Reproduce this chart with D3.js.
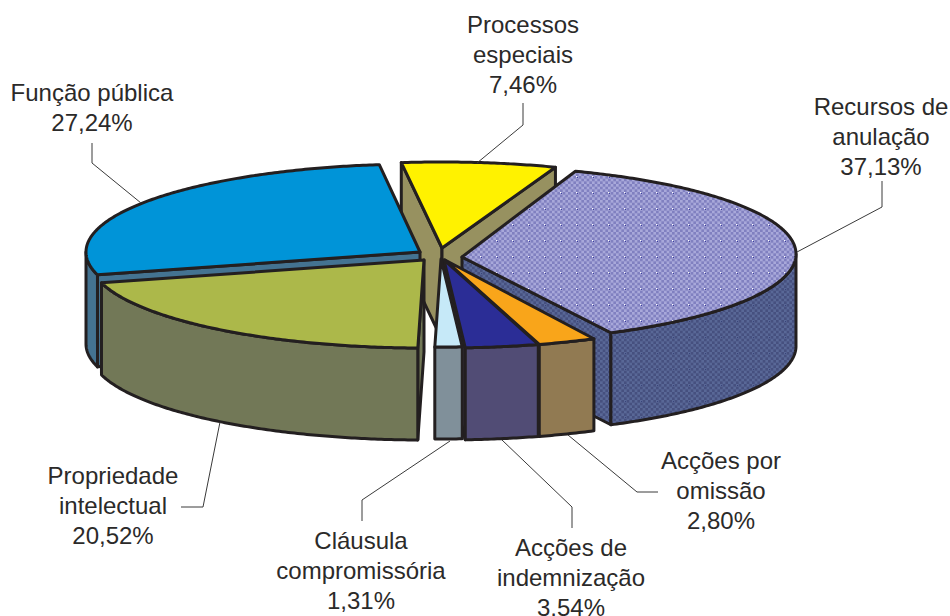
<!DOCTYPE html>
<html><head><meta charset="utf-8">
<style>html,body{margin:0;background:#fff}svg{display:block}text{font-family:"Liberation Sans",Arial,sans-serif;font-size:24px;fill:#2b2a29;text-anchor:middle}</style>
<script src="https://cdn.jsdelivr.net/npm/d3@7/dist/d3.min.js"></script>
</head><body><svg id="c" width="950" height="616"></svg>
<script>
// DATA (clockwise, beginning with the slice at the top)
const categories = ["Processos especiais","Recursos de anulação","Acções por omissão","Acções de indemnização","Cláusula compromissória","Propriedade intelectual","Função pública"];
const values = [7.46,37.13,2.80,3.54,1.31,20.52,27.24];
const labelLines = [["Processos","especiais","7,46%"],["Recursos de","anulação","37,13%"],["Acções por","omissão","2,80%"],["Acções de","indemnização","3,54%"],["Cláusula","compromissória","1,31%"],["Propriedade","intelectual","20,52%"],["Função pública","27,24%"]];

// LAYOUT AND STYLE
const rx = 334, ry = 88, depth = 92, startDeg = -7;
const tips = [[442,248],[462,257],[445,260],[444,260],[441,259],[424,260],[420,252]];
const rimShift = [2,-3,0,0,0,0,0];   // perspective: the rim's centre sits a little off the wedge tip
const topColors = ["#fff200","url(#checkTop)","#f9a51a","#2b2d96","#c6e9f8","#acb84a","#0094d8"];
const wallColors = ["#979160","url(#checkWall)","#917a52","#514c75","#80909a","#727857","#447391"];
const labelPos = [[523,25],[881,107],[721,461],[571,548],[361,541],[113,476],[92,93]];
const leaders = [[[477,163],[523,125],[523,103]],[[797,252],[882,207],[882,181]],[[568,435],[637,492],[658,492]],[[502,440],[572,507],[572,528]],[[450,441],[362,500],[362,521]],[[220,422],[203,507],[181,507]],[[141,203],[92,163],[92,143]]];

const svg = d3.select("#c"), defs = svg.append("defs");
function checker(id,a,b,dotA,dotB){
  const p = defs.append("pattern").attr("id",id).attr("patternUnits","userSpaceOnUse").attr("width",16).attr("height",16);
  p.append("rect").attr("width",16).attr("height",16).attr("fill",a);
  const s = 16/6;
  d3.range(6).forEach(i=>d3.range(6).forEach(j=>{ if((i+j)%2) p.append("rect").attr("x",i*s).attr("y",j*s).attr("width",s).attr("height",s).attr("fill",b); }));
  p.append("rect").attr("x",0).attr("y",0).attr("width",1).attr("height",1).attr("fill",dotA);
  p.append("rect").attr("x",1).attr("y",1).attr("width",1).attr("height",1).attr("fill",dotB);
}
checker("checkTop","#a8a8da","#8080c0","#ffffff","#3a3c9c");
checker("checkWall","#596897","#46507f","#596897","#39447a");

const pie = d3.pie().sort(null).value(d=>d).startAngle(startDeg*Math.PI/180).endAngle((startDeg+360)*Math.PI/180);
const arcs = pie(values).map((a,i)=>({...a,i}));
const line = d3.line();
const styled = s=>s.attr("stroke","#231f20").attr("stroke-width",3).attr("stroke-linejoin","round");

const g = svg.append("g");
// painter's order: back slices first
arcs.slice().sort((p,q)=>Math.cos((q.startAngle+q.endAngle)/2)-Math.cos((p.startAngle+p.endAngle)/2)).forEach(d=>{
  const t = tips[d.i], a0=d.startAngle, a1=d.endAngle, w=wallColors[d.i], sh=rimShift[d.i];
  const pt = (a,dz=0)=>[t[0]+rx*Math.sin(a), t[1]+sh-ry*Math.cos(a)+dz];
  const face = a=>[t,pt(a),pt(a,depth),[t[0],t[1]+depth]];
  const sweep = (lo,hi)=>{const n=Math.ceil((hi-lo)/0.01);return d3.range(n+1).map(k=>lo+(hi-lo)*k/n);};
  if(Math.sin(a0)<0) styled(g.append("path").attr("d",line(face(a0))+"Z").attr("fill",w));
  if(Math.sin(a1)>0) styled(g.append("path").attr("d",line(face(a1))+"Z").attr("fill",w));
  // outer wall: only the part of the rim that faces the viewer
  const lo=Math.max(a0,Math.PI/2), hi=Math.min(a1,3*Math.PI/2);
  if(hi>lo){
    const rim=sweep(lo,hi);
    const pts=rim.map(a=>pt(a)).concat(rim.slice().reverse().map(a=>pt(a,depth)));
    styled(g.append("path").attr("d",line(pts)+"Z").attr("fill",w));
  }
  // top surface
  styled(g.append("path").attr("d",line([t].concat(sweep(a0,a1).map(a=>pt(a))))+"Z").attr("fill",topColors[d.i]));
});

leaders.forEach(l=>svg.append("path").attr("d",line(l)).attr("fill","none").attr("stroke","#3a3a3a").attr("stroke-width",1));
labelLines.forEach((ls,i)=>{
  const step = 30, [x,y]=labelPos[i];
  const tx=svg.append("text").attr("data-cat",categories[i]);
  ls.forEach((s,k)=>tx.append("tspan").attr("x",x).attr("y",y+k*step+8).text(s));
});
</script></body></html>
